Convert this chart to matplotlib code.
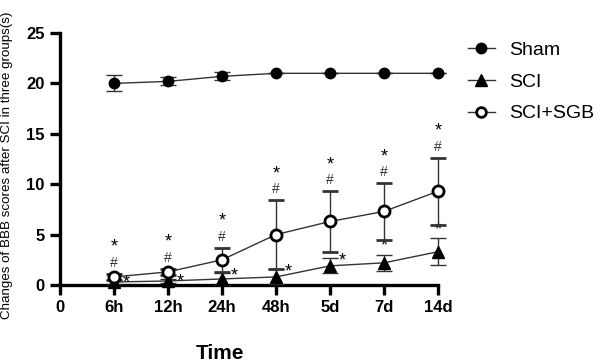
import matplotlib
matplotlib.use("Agg")
import matplotlib.pyplot as plt
from matplotlib.lines import Line2D
import numpy as np

plt.rcParams['font.family'] = ['Liberation Sans', 'DejaVu Sans']

# data
times = ['0', '6h', '12h', '24h', '48h', '5d', '7d', '14d']
sham = [20.0, 20.2, 20.7, 21.0, 21.0, 21.0, 21.0]
sham_err = [0.8, 0.4, 0.4, 0.0, 0.0, 0.0, 0.0]
sci = [0.3, 0.4, 0.6, 0.8, 1.9, 2.2, 3.3]
sci_err = [0.2, 0.2, 0.6, 0.75, 0.75, 0.8, 1.35]
sgb = [0.8, 1.3, 2.5, 5.0, 6.3, 7.3, 9.3]
sgb_err = [0.3, 0.3, 1.2, 3.4, 3.0, 2.8, 3.3]
sci_star_side = ['right', 'right', 'right', 'right', 'right', 'above', 'above']

x = np.arange(1, len(times))

fig = plt.figure(figsize=(6.03, 3.64), dpi=100)
ax = fig.add_axes([60 / 603, 1 - 285 / 364, 378 / 603, 252 / 364])

lc = '#333333'
ax.errorbar(x, sham, yerr=sham_err, color=lc, lw=1, marker='o', ms=7.5,
            mfc='black', mec='black', ecolor=lc, elinewidth=1, capsize=6,
            zorder=3, clip_on=False)
ax.errorbar(x, sci, yerr=sci_err, color=lc, lw=1, marker='^', ms=8,
            mfc='black', mec='black', ecolor=lc, elinewidth=1, capsize=6,
            zorder=3, clip_on=False)
ax.errorbar(x, sgb, yerr=sgb_err, color=lc, lw=1, marker='o', ms=8,
            mfc='white', mec='black', mew=2, ecolor=lc, elinewidth=1, capsize=6,
            zorder=4, clip_on=False)

# significance marks
for xi, v, e in zip(x, sgb, sgb_err):
    ax.annotate('#', (xi, v + e), xytext=(0, 3), textcoords='offset points',
                ha='center', va='bottom', fontsize=10, color='#333333')
    ax.annotate('*', (xi, v + e), xytext=(0, 13), textcoords='offset points',
                ha='center', va='bottom', fontsize=13)
for xi, v, e, side in zip(x, sci, sci_err, sci_star_side):
    if side == 'right':
        ax.annotate('*', (xi, v + e), xytext=(6, -8), textcoords='offset points',
                    ha='left', va='bottom', fontsize=13)
    else:
        ax.annotate('*', (xi, v + e), xytext=(0, 0), textcoords='offset points',
                    ha='center', va='bottom', fontsize=13)

ax.set_xlim(0, 7)
ax.set_ylim(0, 25)
ax.set_xticks(np.arange(len(times)))
ax.set_xticklabels(times)
ax.set_yticks([0, 5, 10, 15, 20, 25])
for s in ['top', 'right']:
    ax.spines[s].set_visible(False)
for s in ['left', 'bottom']:
    ax.spines[s].set_linewidth(2.4)
ax.tick_params(width=2.4, length=7, labelsize=12, pad=4)
for lab in ax.get_xticklabels() + ax.get_yticklabels():
    lab.set_fontweight('bold')

ax.set_xlabel('Time', fontsize=15, fontweight='bold')
ax.xaxis.set_label_coords(0.423, -0.235)
ax.set_ylabel('Changes of BBB scores after SCI in three groups(s)', fontsize=9.6)
ax.yaxis.set_label_coords(-0.125, 0.476)

handles = [
    Line2D([], [], color=lc, lw=1, marker='o', ms=7.5, mfc='black', mec='black'),
    Line2D([], [], color=lc, lw=1, marker='^', ms=8, mfc='black', mec='black'),
    Line2D([], [], color=lc, lw=1, marker='o', ms=7, mfc='white', mec='black', mew=2),
]
labels = ['Sham', 'SCI', 'SCI+SGB']
fig.legend(handles, labels, loc='upper left', bbox_to_anchor=(450 / 603, 1 - 24 / 364),
           frameon=False, fontsize=14, handlelength=1.4, handletextpad=0.75,
           labelspacing=0.72)

fig.savefig('out.png', dpi=100)
